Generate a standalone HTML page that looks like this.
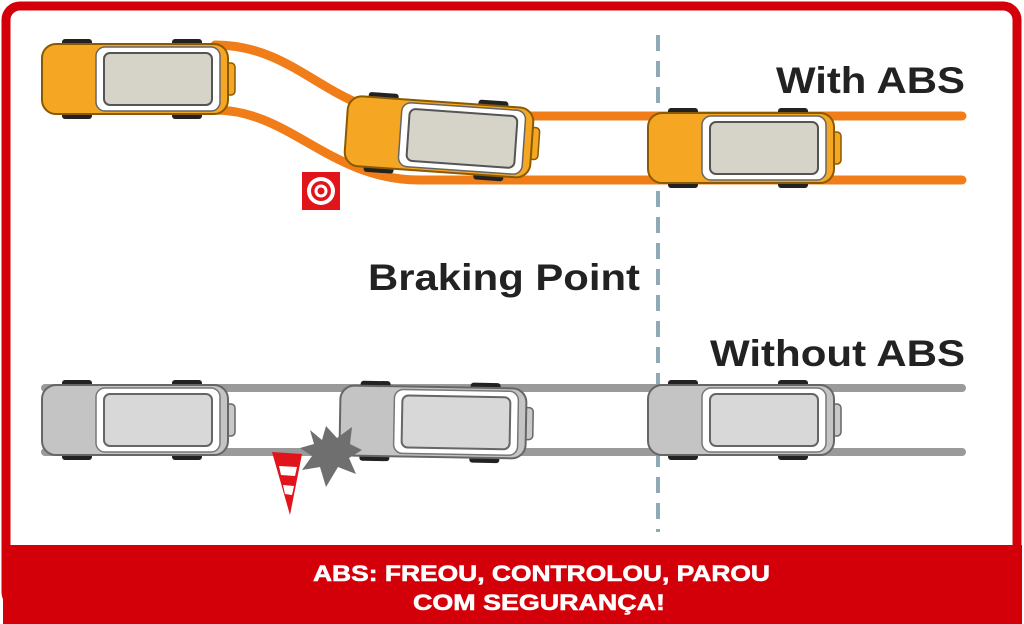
<!DOCTYPE html>
<html><head><meta charset="utf-8"><style>
html,body{margin:0;padding:0;background:#fff;}
svg{display:block;}
</style></head><body>
<svg width="1024" height="624" viewBox="0 0 1024 624" xmlns="http://www.w3.org/2000/svg">
<defs>
<g id="carO">
  <rect x="20" y="0" width="30" height="12" rx="3" fill="#222"/>
  <rect x="20" y="68" width="30" height="12" rx="3" fill="#222"/>
  <rect x="130" y="0" width="30" height="12" rx="3" fill="#222"/>
  <rect x="130" y="68" width="30" height="12" rx="3" fill="#222"/>
  <rect x="183" y="24" width="10" height="32" rx="4" fill="#f5a623" stroke="#8a5a00" stroke-width="1.5"/>
  <rect x="0" y="5" width="186" height="70" rx="14" fill="#f5a623" stroke="#8a5a00" stroke-width="2"/>
  <rect x="54" y="8" width="124" height="64" rx="9" fill="#fff" stroke="#666" stroke-width="1.5"/>
  <rect x="62" y="14" width="108" height="52" rx="6" fill="#d6d3c8" stroke="#555" stroke-width="2"/>
</g>
<g id="carG">
  <rect x="20" y="0" width="30" height="12" rx="3" fill="#222"/>
  <rect x="20" y="68" width="30" height="12" rx="3" fill="#222"/>
  <rect x="130" y="0" width="30" height="12" rx="3" fill="#222"/>
  <rect x="130" y="68" width="30" height="12" rx="3" fill="#222"/>
  <rect x="183" y="24" width="10" height="32" rx="4" fill="#c8c8c8" stroke="#666" stroke-width="1.5"/>
  <rect x="0" y="5" width="186" height="70" rx="14" fill="#c4c4c4" stroke="#666" stroke-width="2"/>
  <rect x="54" y="8" width="124" height="64" rx="9" fill="#fff" stroke="#777" stroke-width="1.5"/>
  <rect x="62" y="14" width="108" height="52" rx="6" fill="#d8d8d8" stroke="#666" stroke-width="2"/>
</g>
</defs>

<rect x="6" y="6" width="1011" height="600" rx="14" fill="#fff" stroke="#d40009" stroke-width="9"/>
<rect x="3" y="545" width="1019" height="79" fill="#d40009"/>

<line x1="658" y1="35" x2="658" y2="532" stroke="#8fa9b6" stroke-width="4" stroke-dasharray="16 10"/>

<path d="M215 45 C300 45 330 116 420 116 L962 116" fill="none" stroke="#f07d18" stroke-width="9" stroke-linecap="round"/>
<path d="M215 110 C290 110 330 180 420 180 L962 180" fill="none" stroke="#f07d18" stroke-width="9" stroke-linecap="round"/>

<line x1="45" y1="388" x2="962" y2="388" stroke="#9a9a9a" stroke-width="8" stroke-linecap="round"/>
<line x1="45" y1="452" x2="962" y2="452" stroke="#9a9a9a" stroke-width="8" stroke-linecap="round"/>

<use href="#carO" x="42" y="39"/>
<use href="#carO" transform="translate(346,97) rotate(4 95 40)"/>
<use href="#carO" x="648" y="108"/>
<use href="#carG" x="42" y="380"/>
<use href="#carG" transform="translate(340,382) rotate(1 95 40)"/>
<use href="#carG" x="648" y="380"/>

<rect x="302" y="172" width="38" height="38" fill="#e0141a"/>
<circle cx="321" cy="191" r="14" fill="#fff"/>
<circle cx="321" cy="191" r="10" fill="#e0141a"/>
<circle cx="321" cy="191" r="6.5" fill="#fff"/>
<circle cx="321" cy="191" r="3.5" fill="#e0141a"/>

<polygon points="326,426 337,438 352,427 350,444 362,450 349,458 356,474 338,467 326,487 320,467 302,470 312,456 300,448 314,444 310,430 322,440" fill="#6f6f6f"/>
<polygon points="272,452 302,454 290,515" fill="#e0141a"/>
<polygon points="279,466 297,467 295,476 281,475" fill="#fff"/>
<polygon points="283,485 294,486 292,495 285,494" fill="#fff"/>

<g font-family="Liberation Sans, Arial, sans-serif" font-weight="bold" fill="#222">
<text x="776" y="93" font-size="37" textLength="189" lengthAdjust="spacingAndGlyphs">With ABS</text>
<text x="368" y="290" font-size="37" textLength="272" lengthAdjust="spacingAndGlyphs">Braking Point</text>
<text x="710" y="366" font-size="37" textLength="255" lengthAdjust="spacingAndGlyphs">Without ABS</text>
</g>
<g font-family="Liberation Sans, Arial, sans-serif" font-weight="bold" fill="#fff" font-size="22" stroke="#fff" stroke-width="0.6">
<text x="313" y="581" textLength="457" lengthAdjust="spacingAndGlyphs">ABS: FREOU, CONTROLOU, PAROU</text>
<text x="413" y="610" textLength="252" lengthAdjust="spacingAndGlyphs">COM SEGURANÇA!</text>
</g>
</svg>
</body></html>
